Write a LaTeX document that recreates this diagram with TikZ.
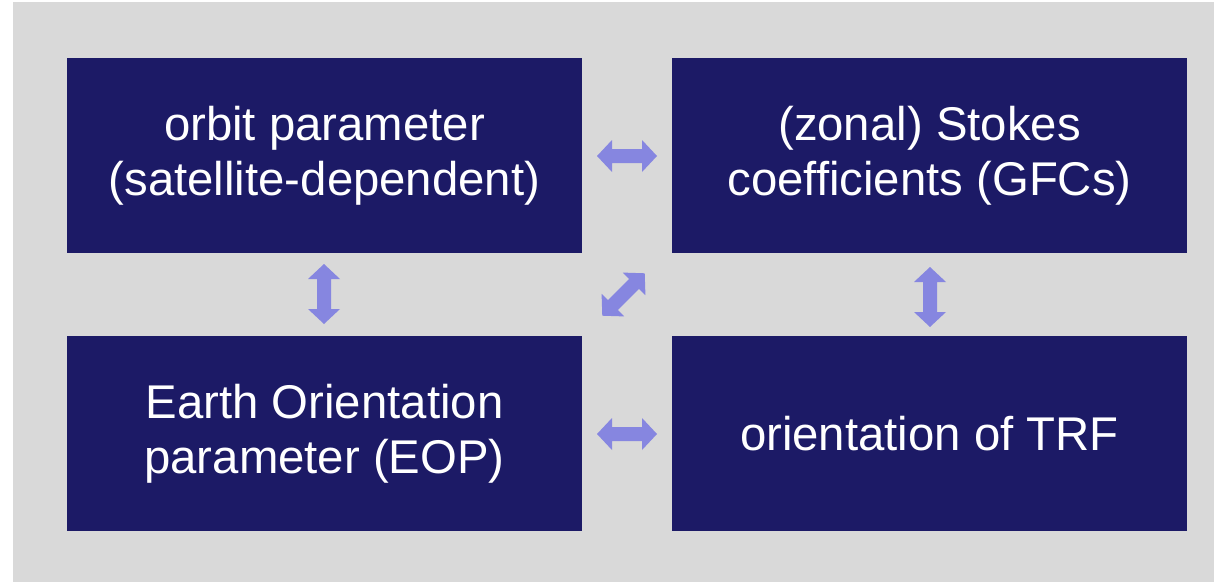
\documentclass[tikz,border=0pt]{standalone}
\usepackage{fontspec}
\setmainfont{Liberation Sans}
\definecolor{panelgray}{RGB}{217,217,217}
\definecolor{boxnavy}{RGB}{28,26,102}
\definecolor{arrowblue}{RGB}{134,134,224}
% block double arrow: centre (#1,#2), rotation #3 (degrees)
\newcommand{\blockarrow}[3]{%
  \begin{scope}[shift={(#1,#2)},rotate=#3]
    \fill[arrowblue] (-30,0) -- (-15,-16) -- (-15,-7) -- (15,-7) -- (15,-16)
      -- (30,0) -- (15,16) -- (15,7) -- (-15,7) -- (-15,16) -- cycle;
  \end{scope}}
\begin{document}
\begin{tikzpicture}[x=0.75pt,y=-0.75pt,
  infobox/.style={fill=boxnavy,draw=none,text=white,
    minimum width=386.25pt,minimum height=146.25pt,inner sep=0pt,
    align=center,font=\fontsize{35.5}{41.5}\selectfont}]
  \useasboundingbox (0,0) rectangle (1214,582);
  \fill[white] (0,0) rectangle (1214,582);
  \fill[panelgray] (13,2) rectangle (1214,582);

  \node[infobox] (orbit) at (324.5,155.5) {orbit parameter\\(satellite-dependent)};
  \node[infobox] (stokes) at (929.5,155.5) {(zonal) Stokes\\coefficients (GFCs)};
  \node[infobox] (eop) at (324.5,433.5) {Earth Orientation\\parameter (EOP)};
  \node[infobox] (trf) at (929.5,433.5) {orientation of TRF};

  % links between the parameter groups
  \blockarrow{627}{156}{0}
  \blockarrow{627}{434}{0}
  \blockarrow{324}{294}{90}
  \blockarrow{930}{297}{90}
  \blockarrow{623.5}{294.5}{45}
\end{tikzpicture}
\end{document}
